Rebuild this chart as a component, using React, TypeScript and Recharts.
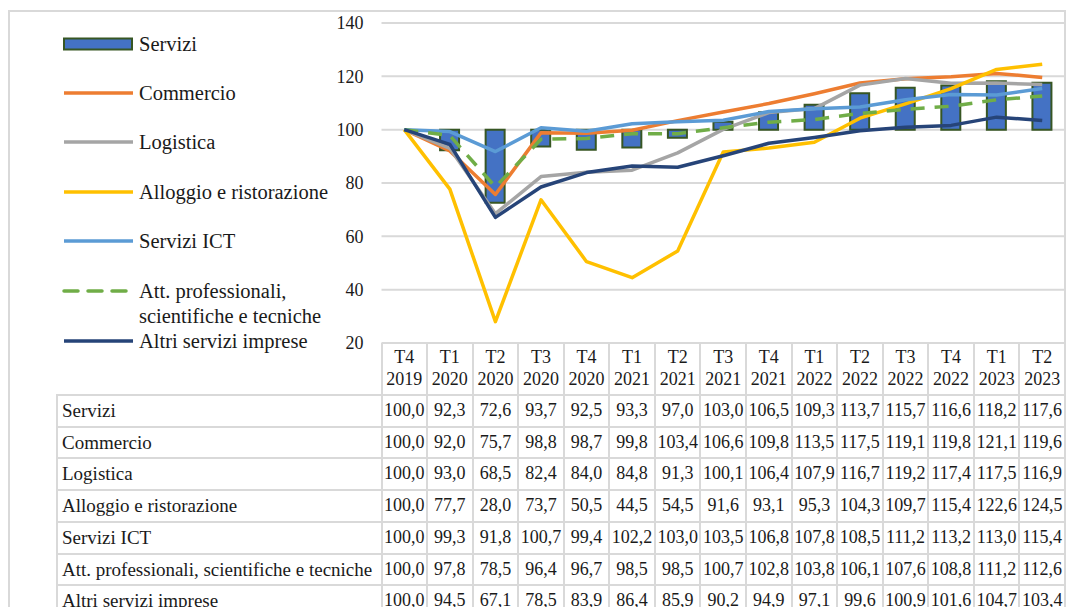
import React from 'react';
import { ComposedChart, Bar, Line, XAxis, YAxis, CartesianGrid, Legend } from 'recharts';

// ---------- DATA ----------
const categories = [
  'T4 2019', 'T1 2020', 'T2 2020', 'T3 2020', 'T4 2020',
  'T1 2021', 'T2 2021', 'T3 2021', 'T4 2021',
  'T1 2022', 'T2 2022', 'T3 2022', 'T4 2022',
  'T1 2023', 'T2 2023',
];
const servizi = [100.0, 92.3, 72.6, 93.7, 92.5, 93.3, 97.0, 103.0, 106.5, 109.3, 113.7, 115.7, 116.6, 118.2, 117.6];
const commercio = [100.0, 92.0, 75.7, 98.8, 98.7, 99.8, 103.4, 106.6, 109.8, 113.5, 117.5, 119.1, 119.8, 121.1, 119.6];
const logistica = [100.0, 93.0, 68.5, 82.4, 84.0, 84.8, 91.3, 100.1, 106.4, 107.9, 116.7, 119.2, 117.4, 117.5, 116.9];
const alloggio = [100.0, 77.7, 28.0, 73.7, 50.5, 44.5, 54.5, 91.6, 93.1, 95.3, 104.3, 109.7, 115.4, 122.6, 124.5];
const ict = [100.0, 99.3, 91.8, 100.7, 99.4, 102.2, 103.0, 103.5, 106.8, 107.8, 108.5, 111.2, 113.2, 113.0, 115.4];
const attProf = [100.0, 97.8, 78.5, 96.4, 96.7, 98.5, 98.5, 100.7, 102.8, 103.8, 106.1, 107.6, 108.8, 111.2, 112.6];
const altri = [100.0, 94.5, 67.1, 78.5, 83.9, 86.4, 85.9, 90.2, 94.9, 97.1, 99.6, 100.9, 101.6, 104.7, 103.4];
const yTicks = [20, 40, 60, 80, 100, 120, 140];
const BASE = 100;

const seriesLabels = {
  servizi: 'Servizi',
  commercio: 'Commercio',
  logistica: 'Logistica',
  alloggio: 'Alloggio e ristorazione',
  ict: 'Servizi ICT',
  attProf: 'Att. professionali, scientifiche e tecniche',
  altri: 'Altri servizi imprese',
};

const lineSeries = [
  { key: 'commercio', values: commercio, color: '#ED7D31', dash: undefined as string | undefined },
  { key: 'logistica', values: logistica, color: '#A5A5A5', dash: undefined },
  { key: 'alloggio', values: alloggio, color: '#FFC000', dash: undefined },
  { key: 'ict', values: ict, color: '#5B9BD5', dash: undefined },
  { key: 'attProf', values: attProf, color: '#70AD47', dash: '14 10' },
  { key: 'altri', values: altri, color: '#264478', dash: undefined },
];

const tableRows = [
  { key: 'servizi', values: servizi },
  ...lineSeries.map((s) => ({ key: s.key, values: s.values })),
];

const data = categories.map((cat, i) => {
  const row: Record<string, any> = { cat, servizi: servizi[i] };
  lineSeries.forEach((s) => { row[s.key] = s.values[i]; });
  return row;
});

// ---------- LAYOUT ----------
const W = 1067;
const H = 607;
const PLOT_TOP = 23;
const PLOT_BOTTOM = 343;
const PLOT_LEFT = 381.5;
const PLOT_RIGHT = 1065;
const COL_W = (PLOT_RIGHT - PLOT_LEFT) / categories.length;
const TABLE_LEFT = 57;
const ROW_TOP = 395;
const ROW_H = 31.7;
const GRID = '#d9d9d9';
const TXT = '#1a1a1a';
const FONT = '"Liberation Serif", "Times New Roman", serif';

const fmt = (v: number) => v.toFixed(1).replace('.', ',');

const XTick = (props: any) => {
  const { x, payload } = props;
  const [a, b] = String(payload.value).split(' ');
  return (
    <text x={x} textAnchor="middle" fontSize={18} fill={TXT} fontFamily={FONT}>
      <tspan x={x} y={PLOT_BOTTOM + 20}>{a}</tspan>
      <tspan x={x} y={PLOT_BOTTOM + 42}>{b}</tspan>
    </text>
  );
};

const legendRows = [
  { key: 'servizi', cy: 43.5, kind: 'bar', color: '#4472C4', dash: undefined as string | undefined, lines: ['Servizi'] },
  ...lineSeries.map((s, i) => ({
    key: s.key,
    cy: [92.7, 142.3, 191.7, 241, 291, 340.7][i],
    kind: 'line',
    color: s.color,
    dash: s.dash,
    lines: s.key === 'attProf' ? ['Att. professionali,', 'scientifiche e tecniche'] : [(seriesLabels as any)[s.key]],
  })),
];

const LegendContent = () => (
  <div style={{ position: 'relative', width: 381, height: 380 }}>
    {legendRows.map((r) => (
      <div key={r.key}>
        <svg style={{ position: 'absolute', left: 60, top: r.cy - 10 }} width={76} height={20}>
          {r.kind === 'bar' ? (
            <rect x={4} y={4.5} width={68} height={11} fill={r.color} stroke="#375623" strokeWidth={2} />
          ) : (
            <line x1={4} x2={73} y1={10} y2={10} stroke={r.color} strokeWidth={3.5} strokeDasharray={r.dash} strokeLinecap={r.dash ? 'round' : 'butt'} />
          )}
        </svg>
        {r.lines.map((t, j) => (
          <div
            key={j}
            style={{
              position: 'absolute', left: 139, top: r.cy - 14 + j * 24.5, height: 28, lineHeight: '28px',
              fontSize: 20.5, color: TXT, fontFamily: FONT, whiteSpace: 'nowrap',
            }}
          >
            {t}
          </div>
        ))}
      </div>
    ))}
  </div>
);

const TableOverlay = () => {
  const els: React.ReactNode[] = [];
  const nRows = tableRows.length;
  // header vertical lines
  for (let k = 0; k <= categories.length; k++) {
    const x = PLOT_LEFT + k * COL_W;
    els.push(<div key={`hv${k}`} style={{ position: 'absolute', left: x - 1, top: PLOT_BOTTOM, width: 2, height: ROW_TOP - PLOT_BOTTOM, background: GRID }} />);
    els.push(<div key={`dv${k}`} style={{ position: 'absolute', left: x - 1, top: ROW_TOP, width: 2, height: nRows * ROW_H + 2, background: GRID }} />);
  }
  els.push(<div key="dv-left" style={{ position: 'absolute', left: TABLE_LEFT - 1, top: ROW_TOP, width: 2, height: nRows * ROW_H + 2, background: GRID }} />);
  for (let r = 0; r <= nRows; r++) {
    const y = ROW_TOP + r * ROW_H;
    els.push(<div key={`h${r}`} style={{ position: 'absolute', left: TABLE_LEFT - 1, top: y - 1, width: PLOT_RIGHT - TABLE_LEFT + 2, height: 2, background: GRID }} />);
  }
  tableRows.forEach((row, r) => {
    const y = ROW_TOP + r * ROW_H;
    els.push(
      <div key={`lab${r}`} style={{ position: 'absolute', left: TABLE_LEFT + 5, top: y, height: ROW_H, lineHeight: `${ROW_H}px`, fontSize: 19, color: TXT, whiteSpace: 'nowrap' }}>
        {(seriesLabels as any)[row.key]}
      </div>
    );
    row.values.forEach((v, c) => {
      els.push(
        <div key={`v${r}-${c}`} style={{ position: 'absolute', left: PLOT_LEFT + c * COL_W, top: y, width: COL_W, height: ROW_H, lineHeight: `${ROW_H}px`, textAlign: 'center', fontSize: 18, color: TXT, whiteSpace: 'nowrap' }}>
          {fmt(v)}
        </div>
      );
    });
  });
  return <div style={{ position: 'absolute', left: 0, top: 0, width: W, height: H, fontFamily: FONT }}>{els}</div>;
};

export default function App() {
  return (
    <div style={{ position: 'absolute', left: 0, top: 0, width: W, height: H, overflow: 'hidden', background: '#fff', fontFamily: FONT }}>
      <div style={{ position: 'absolute', left: 7.5, top: 10, width: 1058.5, height: 700, border: `2px solid ${GRID}`, boxSizing: 'border-box' }} />
      <TableOverlay />
      <div style={{ position: 'absolute', left: 0, top: 0 }}>
        <ComposedChart
          width={W}
          height={H}
          data={data}
          margin={{ top: PLOT_TOP, right: W - PLOT_RIGHT, bottom: 0, left: 0 }}
        >
          <CartesianGrid horizontal vertical={false} stroke={GRID} strokeWidth={2} />
          <XAxis
            dataKey="cat"
            height={H - PLOT_BOTTOM}
            axisLine={false}
            tickLine={false}
            interval={0}
            tick={<XTick />}
          />
          <YAxis
            width={PLOT_LEFT}
            domain={[20, 140]}
            ticks={yTicks}
            axisLine={false}
            tickLine={false}
            tickSize={0}
            tickMargin={18}
            tick={{ fontSize: 18, fill: TXT, fontFamily: FONT }}
          />
          <Legend
            layout="vertical"
            align="center"
            verticalAlign="middle"
            content={<LegendContent />}
            wrapperStyle={{ position: 'absolute', left: 0, top: 0, width: 381, height: 380 }}
          />
          <Bar
            dataKey={(d: any) => [Math.min(BASE, d.servizi), Math.max(BASE, d.servizi)]}
            name={seriesLabels.servizi}
            barSize={19}
            fill="#4472C4"
            stroke="#375623"
            strokeWidth={2}
            isAnimationActive={false}
          />
          {lineSeries.map((s) => (
            <Line
              key={s.key}
              type="linear"
              dataKey={s.key}
              name={(seriesLabels as any)[s.key]}
              stroke={s.color}
              strokeWidth={3.5}
              strokeDasharray={s.dash}
              strokeLinejoin="round"
              dot={false}
              activeDot={false}
              isAnimationActive={false}
            />
          ))}
        </ComposedChart>
      </div>
    </div>
  );
}
